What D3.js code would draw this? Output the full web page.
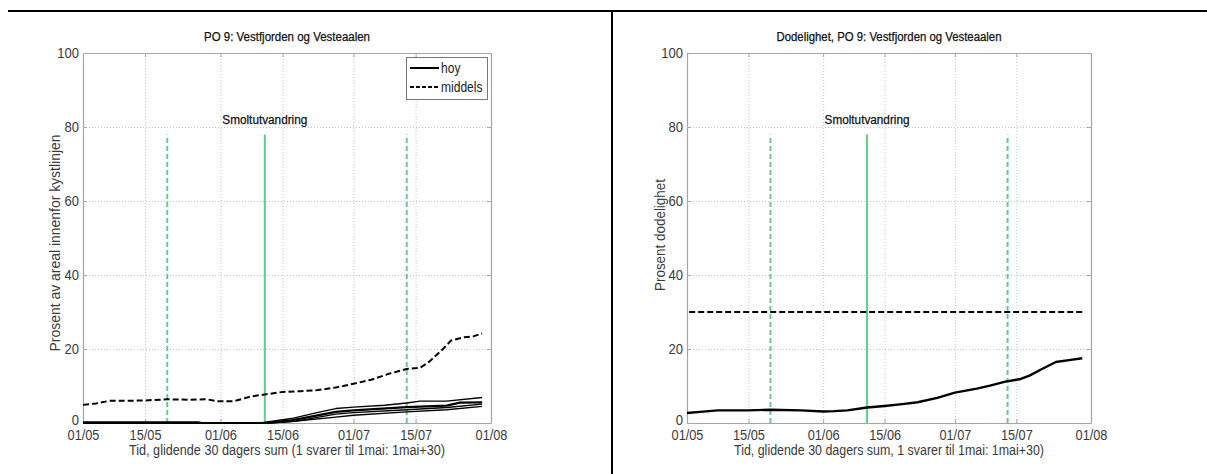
<!DOCTYPE html>
<html>
<head>
<meta charset="utf-8">
<script src="https://cdn.jsdelivr.net/npm/d3@7"></script>
<style>
  body { margin: 0; background: #fff; }
  svg { display: block; font-family: "Liberation Sans", Arial, Helvetica, sans-serif; }
</style>
</head>
<body>
<svg id="vis" width="1207" height="474"></svg>
<script>
// x values are days counted from 01/05
const tickDays = [0, 14, 31, 45, 61, 75, 92];
const tickLabels = ['01/05', '15/05', '01/06', '15/06', '01/07', '15/07', '01/08'];
const yTicks = [0, 20, 40, 60, 80, 100];

// smoltutvandring: start, peak, end
const smoltDays = [19, 41, 73];
const smoltStyle = ['dash', 'solid', 'dash'];
const smoltTop = 78;
const smoltLabel = 'Smoltutvandring';

// left panel
const middels = [
  [0, 4.9], [3, 5.3], [6, 6.0], [10, 6.0], [14, 6.1], [19, 6.4], [24, 6.3], [28, 6.4],
  [30, 5.9], [34, 5.9], [38, 7.2], [41, 7.7], [45, 8.4], [49, 8.6], [53, 8.9], [57, 9.6],
  [61, 10.6], [65, 11.7], [69, 13.3], [73, 14.6], [76, 14.9], [78, 16.5], [81, 19.8],
  [83, 22.3], [86, 23.2], [88, 23.4], [90, 24.2]
];
const hoy1 = [[0, 0], [40, 0], [47, 1.2], [52, 2.6], [57, 3.9], [61, 4.3], [68, 4.8], [73, 5.4], [76, 5.9], [82, 5.9], [90, 6.9]];
const hoy2 = [[0, 0], [41, 0], [47, 0.7], [57, 3.0], [61, 3.4], [73, 4.3], [82, 4.7], [85, 5.5], [90, 5.6]];
const hoy3 = [[0, 0.3], [26, 0.3], [27, 0], [42, 0], [48, 0.5], [57, 2.4], [61, 2.8], [73, 3.6], [82, 4.2], [90, 5.1]];
const hoy4 = [[0, 0], [42, 0], [47, 0.4], [57, 1.6], [61, 2.1], [73, 3.0], [82, 3.6], [90, 4.5]];
const legendLabels = ['hoy', 'middels'];

// right panel
const dodelighet = [
  [0, 2.7], [3, 3.0], [7, 3.4], [14, 3.4], [19, 3.6], [26, 3.4], [31, 3.1], [33.5, 3.2],
  [36.5, 3.4], [41, 4.2], [45, 4.6], [49, 5.1], [52.5, 5.6], [57, 6.8], [61, 8.2], [66, 9.3],
  [69, 10.1], [72.5, 11.2], [76, 11.9], [78, 12.8], [80.5, 14.4], [84, 16.5], [87, 17.0], [90, 17.5]
];
const dodMiddels = [[0.5, 30], [90, 30]];

const green = '#5ccf8e';
const vis = d3.select('#vis');

// squeeze text horizontally (reference font is narrower than Liberation Sans)
const squeeze = (sel, k) => sel.each(function () {
  const w = this.getComputedTextLength();
  d3.select(this).attr('textLength', w * k).attr('lengthAdjust', 'spacingAndGlyphs');
});
const fit = (sel, w) => sel.attr('textLength', w).attr('lengthAdjust', 'spacingAndGlyphs');

const panels = [
  {
    left: 83, right: 491,
    title: 'PO 9: Vestfjorden og Vesteaalen', titleW: 166,
    xlabel: 'Tid, glidende 30 dagers sum (1 svarer til 1mai: 1mai+30)', xlabelW: 316,
    ylabel: 'Prosent av areal innenfor kystlinjen', ylabelW: 217, ylabelX: 60, ylabelY: 243,
    series: [
      { data: hoy4, dash: null, width: 1.4 },
      { data: hoy3, dash: null, width: 1.4 },
      { data: hoy1, dash: null, width: 1.4 },
      { data: hoy2, dash: null, width: 2.2 },
      { data: middels, dash: '6,3', width: 2 }
    ],
    legend: true
  },
  {
    left: 687, right: 1091,
    title: 'Dodelighet, PO 9: Vestfjorden og Vesteaalen', titleW: 225,
    xlabel: 'Tid, glidende 30 dagers sum, 1 svarer til 1mai: 1mai+30)', xlabelW: 310,
    ylabel: 'Prosent dodelighet', ylabelW: 112, ylabelX: 665, ylabelY: 235,
    series: [
      { data: dodMiddels, dash: '6,3', width: 2 },
      { data: dodelighet, dash: null, width: 2.4 }
    ],
    legend: false
  }
];

const plotTop = 53, plotBottom = 423;

const drawPanel = (p) => {
  const x = d3.scaleLinear().domain([0, 92]).range([p.left, p.right]);
  const y = d3.scaleLinear().domain([0, 100]).range([plotBottom, plotTop]);
  const g = vis.append('g');

  // dotted grid
  g.selectAll('.vg')
    .data(tickDays.slice(1, -1))
    .enter()
    .append('line')
    .attr('x1', d => x(d) + 0.5).attr('x2', d => x(d) + 0.5)
    .attr('y1', plotTop).attr('y2', plotBottom)
    .attr('stroke', '#c4c4c4').attr('stroke-dasharray', '1,2');
  g.selectAll('.hg')
    .data(yTicks.slice(1, -1))
    .enter()
    .append('line')
    .attr('x1', p.left).attr('x2', p.right)
    .attr('y1', d => y(d) + 0.5).attr('y2', d => y(d) + 0.5)
    .attr('stroke', '#c4c4c4').attr('stroke-dasharray', '1,2');

  // axes, ticks pointing inwards
  const axB = g.append('g').attr('transform', `translate(0,${plotBottom})`)
    .call(d3.axisBottom(x).tickValues(tickDays).tickFormat((d, i) => tickLabels[i]).tickSize(-4).tickSizeOuter(0).tickPadding(7));
  const axT = g.append('g').attr('transform', `translate(0,${plotTop})`)
    .call(d3.axisTop(x).tickValues(tickDays).tickFormat('').tickSize(-4).tickSizeOuter(0));
  const axL = g.append('g').attr('transform', `translate(${p.left},0)`)
    .call(d3.axisLeft(y).tickValues(yTicks).tickSize(-4).tickSizeOuter(0).tickPadding(4));
  const axR = g.append('g').attr('transform', `translate(${p.right},0)`)
    .call(d3.axisRight(y).tickValues(yTicks).tickFormat('').tickSize(-4).tickSizeOuter(0));

  [axB, axT, axL, axR].forEach(a => {
    a.select('.domain').attr('stroke', '#a6a6a6').attr('stroke-width', 1.2);
    a.selectAll('.tick line').attr('stroke', '#a6a6a6');
    a.selectAll('text')
      .attr('fill', '#3a3a3a')
      .style('font-size', '14.5px');
  });
  squeeze(axB.selectAll('text'), 0.88);
  squeeze(axL.selectAll('text'), 0.9);
  // the 0 label sits just above the date labels, as in the reference
  axL.selectAll('text').filter(d => d === 0).attr('dy', '0.1em');

  // smoltutvandring markers
  g.selectAll('.smolt')
    .data(smoltDays)
    .enter()
    .append('line')
    .attr('x1', d => x(d)).attr('x2', d => x(d))
    .attr('y1', y(0)).attr('y2', y(smoltTop))
    .attr('stroke', green).attr('stroke-width', 2)
    .attr('stroke-dasharray', (d, i) => smoltStyle[i] === 'dash' ? '5,3' : null);

  g.append('text')
    .attr('x', x(smoltDays[1])).attr('y', y(80) - 3)
    .attr('text-anchor', 'middle')
    .attr('fill', '#111')
    .style('font-size', '12.5px')
    .style('stroke', '#111').style('stroke-width', 0.25)
    .text(smoltLabel)
    .call(fit, 85);

  // data lines
  const line = d3.line().x(d => x(d[0])).y(d => y(d[1]));
  g.selectAll('.series')
    .data(p.series)
    .enter()
    .append('path')
    .attr('d', d => line(d.data))
    .attr('fill', 'none')
    .attr('stroke', '#000')
    .attr('stroke-width', d => d.width)
    .attr('stroke-dasharray', d => d.dash)
    .attr('stroke-linejoin', 'round');

  // titles and labels
  const cx = (p.left + p.right) / 2;
  g.append('text')
    .attr('x', cx).attr('y', 41)
    .attr('text-anchor', 'middle')
    .attr('fill', '#111')
    .style('font-size', '12.5px')
    .style('stroke', '#111').style('stroke-width', 0.25)
    .text(p.title)
    .call(fit, p.titleW);

  g.append('text')
    .attr('x', cx).attr('y', 455)
    .attr('text-anchor', 'middle')
    .attr('fill', '#3a3a3a')
    .style('font-size', '14px')
    .text(p.xlabel)
    .call(fit, p.xlabelW);

  g.append('text')
    .attr('transform', `translate(${p.ylabelX},${p.ylabelY}) rotate(-90)`)
    .attr('text-anchor', 'middle')
    .attr('fill', '#3a3a3a')
    .style('font-size', '15px')
    .text(p.ylabel)
    .call(fit, p.ylabelW);

  if (p.legend) {
    const lg = g.append('g').attr('transform', `translate(${p.right - 85},${plotTop + 4})`);
    lg.append('rect')
      .attr('x', 0.5).attr('y', 0.5).attr('width', 81).attr('height', 42)
      .attr('fill', '#fff').attr('stroke', '#777');
    lg.selectAll('.item')
      .data(legendLabels)
      .enter()
      .append('line')
      .attr('x1', 4).attr('x2', 33)
      .attr('y1', (d, i) => 11 + i * 19).attr('y2', (d, i) => 11 + i * 19)
      .attr('stroke', '#000').attr('stroke-width', 2)
      .attr('stroke-dasharray', (d, i) => i ? '4,2' : null);
    lg.selectAll('.lab')
      .data(legendLabels)
      .enter()
      .append('text')
      .attr('x', 35).attr('y', (d, i) => 11 + i * 19)
      .attr('dy', '0.35em')
      .attr('fill', '#222')
      .style('font-size', '14px')
      .text(d => d)
      .call(squeeze, 0.86);
  }
};

// frame lines of the page
vis.append('line').attr('x1', 8).attr('x2', 1207).attr('y1', 11).attr('y2', 11)
  .attr('stroke', '#000').attr('stroke-width', 2);
vis.append('line').attr('x1', 612).attr('x2', 612).attr('y1', 10).attr('y2', 474)
  .attr('stroke', '#000').attr('stroke-width', 2);

panels.forEach(drawPanel);
</script>
</body>
</html>
